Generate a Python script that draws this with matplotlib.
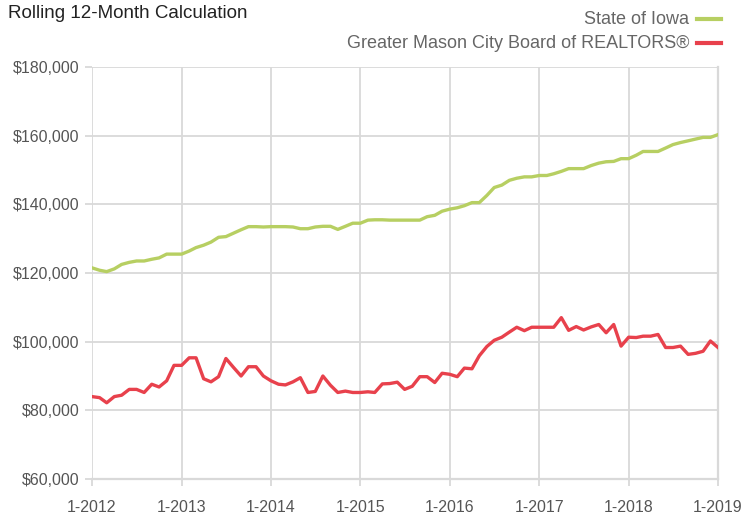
import numpy as np
import pandas as pd
import matplotlib.pyplot as plt
import matplotlib.dates as mdates
from matplotlib.lines import Line2D

# monthly rolling 12-month median sales price, Jan 2012 .. Jan 2019
months = pd.date_range("2012-01-01", periods=85, freq="MS")

iowa = [121500, 120800, 120400, 121200, 122500, 123100, 123500, 123500, 124000, 124400, 125500, 125500,
        125500, 126400, 127400, 128100, 129000, 130400, 130600, 131600, 132600, 133500, 133500, 133400,
        133500, 133500, 133500, 133400, 132900, 132900, 133400, 133600, 133600, 132700, 133600, 134500,
        134500, 135400, 135500, 135500, 135400, 135400, 135400, 135400, 135400, 136400, 136800, 138000,
        138600, 139000, 139600, 140500, 140500, 142600, 144900, 145600, 147000, 147600, 148000, 148000,
        148400, 148400, 148900, 149600, 150400, 150400, 150400, 151300, 152000, 152400, 152500, 153300,
        153300, 154300, 155400, 155400, 155400, 156400, 157400, 158000, 158500, 159000, 159500, 159500,
        160300]

mason_city = [84000, 83700, 82200, 84000, 84400, 86100, 86100, 85200, 87600, 86800, 88600, 93100,
              93100, 95300, 95300, 89200, 88300, 89800, 95100, 92500, 90000, 92700, 92700, 90000,
              88600, 87600, 87400, 88300, 89500, 85200, 85500, 90000, 87300, 85200, 85600, 85200,
              85200, 85400, 85200, 87700, 87800, 88200, 86100, 87000, 89800, 89800, 88100, 90800,
              90500, 89800, 92300, 92100, 95900, 98600, 100400, 101300, 102800, 104200, 103200, 104200,
              104200, 104200, 104200, 107000, 103300, 104400, 103400, 104300, 105000, 102600, 105000, 98700,
              101300, 101200, 101600, 101600, 102100, 98300, 98300, 98700, 96300, 96600, 97200, 100200,
              98300]

series_names = ["State of Iowa", "Greater Mason City Board of REALTORS®"]
colors = ["#b7cf62", "#e8414c"]

yticks = [60000, 80000, 100000, 120000, 140000, 160000, 180000]

plt.rcParams["font.family"] = ["Liberation Sans", "DejaVu Sans"]

fig = plt.figure(figsize=(7.43, 5.15), dpi=100)
ax = fig.add_axes([92 / 743, 1 - 479 / 515, (718 - 92) / 743, (479 - 67) / 515])

ax.plot(months, iowa, color=colors[0], lw=2.4, solid_joinstyle="round", zorder=3)
ax.plot(months, mason_city, color=colors[1], lw=2.4, solid_joinstyle="round", zorder=3)

ax.set_xlim(months[0], months[-1])
ax.set_ylim(60000, 180000)
ax.set_yticks(yticks)
ax.set_yticklabels(["${:,}".format(v) for v in yticks])
ax.xaxis.set_major_locator(mdates.YearLocator())
ax.xaxis.set_major_formatter(mdates.DateFormatter("1-%Y"))

ax.grid(True, color="#d9d9d9", lw=1.3)
ax.set_axisbelow(True)
for side in ["top", "left"]:
    ax.spines[side].set_visible(False)
ax.spines["bottom"].set_color("#d9d9d9")
ax.spines["bottom"].set_linewidth(1.6)
ax.spines["right"].set_color("#d9d9d9")
ax.spines["right"].set_linewidth(1.6)
ax.tick_params(axis="both", colors="#d9d9d9", labelcolor="#555555", labelsize=11.5, width=1.3)
ax.tick_params(axis="y", length=5, pad=4)
ax.tick_params(axis="x", length=5, pad=10)

fig.text(8 / 743, 1 - 13 / 515, "Rolling 12-Month Calculation", fontsize=13.5, color="#222222",
         ha="left", va="center")

for i, (name, c) in enumerate(zip(series_names, colors)):
    yy = 1 - (19 + i * 24) / 515
    fig.text(689 / 743, yy, name, fontsize=13, color="#666666", ha="right", va="center")
    fig.add_artist(Line2D([697 / 743, 721 / 743], [yy, yy], color=c, lw=3, transform=fig.transFigure))

fig.savefig("out.png", dpi=100)
